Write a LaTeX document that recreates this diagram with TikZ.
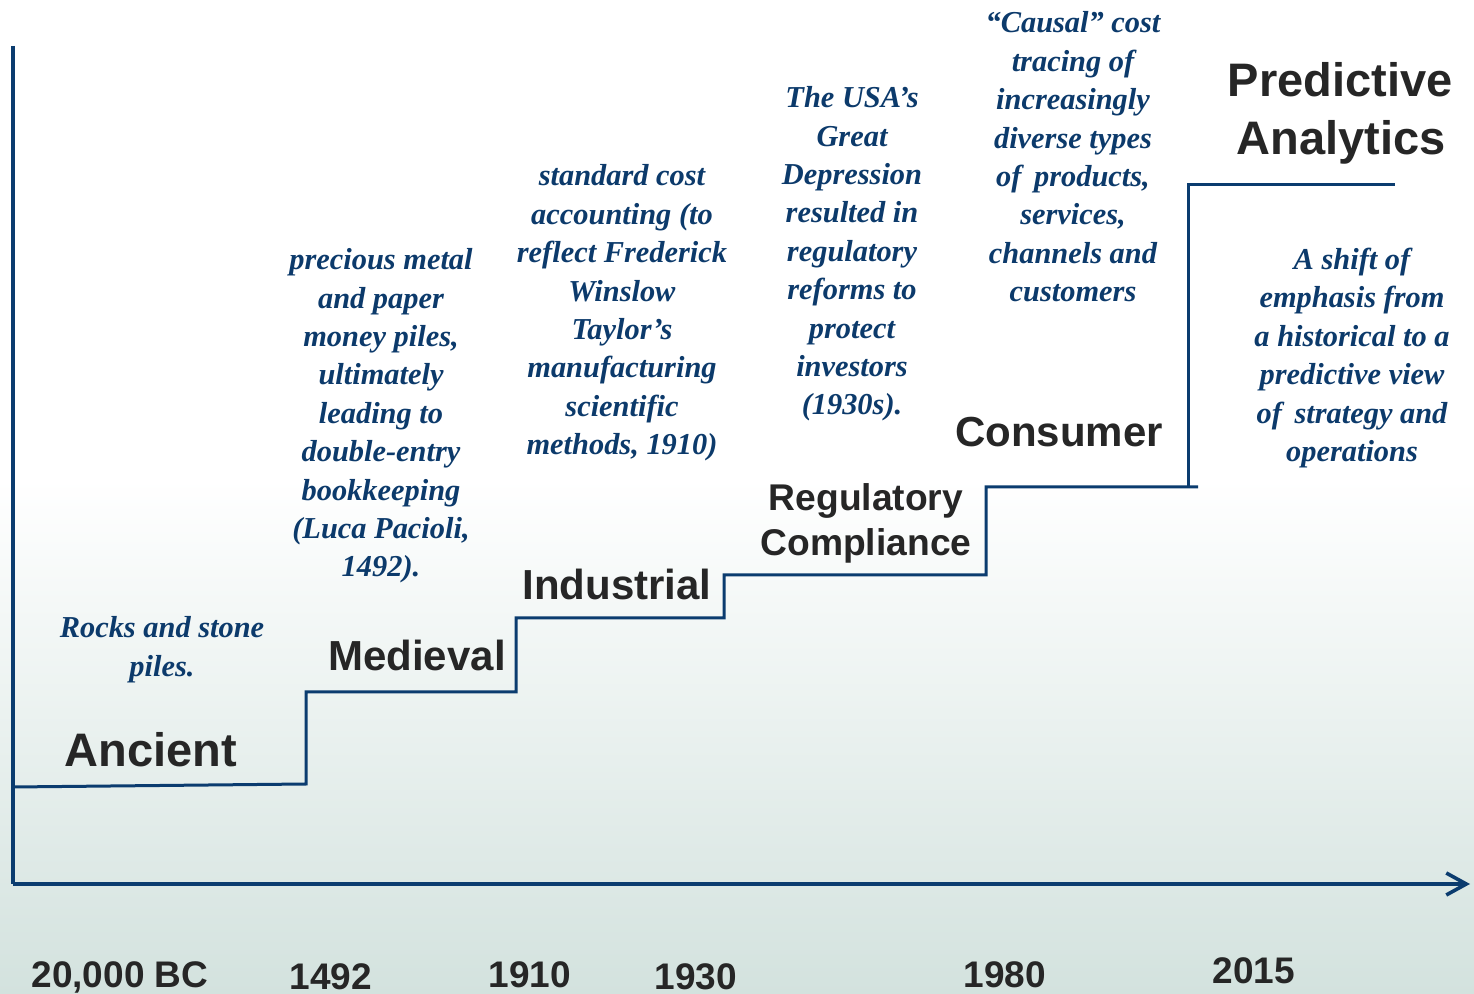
\documentclass[tikz,border=0pt]{standalone}
\usepackage{fontspec}
\setmainfont{Liberation Serif}
\newfontfamily\labelfont{Liberation Sans}
\usetikzlibrary{arrows.meta}
\definecolor{navy}{HTML}{0B3C6F}
\definecolor{itblue}{HTML}{0C3A6B}
\definecolor{darktxt}{HTML}{262626}
\definecolor{bgbot}{HTML}{D3E2DE}
\tikzset{
  desc/.style={text=itblue, align=center, inner sep=0pt,
    font=\bfseries\itshape\fontsize{15.2}{19.2}\selectfont},
  era/.style={text=darktxt, inner sep=0pt, anchor=base,
    font=\labelfont\bfseries\fontsize{#1}{#1}\selectfont},
  era/.default=21,
  yearlbl/.style={text=darktxt, inner sep=0pt, anchor=base,
    font=\labelfont\bfseries\fontsize{18.5}{18.5}\selectfont},
  stair/.style={draw=navy, line width=1.5pt, line join=miter},
  axisline/.style={draw=navy, line width=1.6pt}
}
\begin{document}
\begin{tikzpicture}[x=0.5pt,y=-0.5pt]
\useasboundingbox (0,0) rectangle (1474,994);
\fill[white] (0,0) rectangle (1474,480);
\shade[top color=white, bottom color=bgbot] (0,479) rectangle (1474,994);

% axes
\coordinate (ytop) at (13,46);
\coordinate (origin) at (13,884);
\coordinate (xend) at (1470,884);
\draw[axisline] (ytop) -- (origin);
\draw[axisline, -{Straight Barb[length=10pt,width=11pt,line width=1.8pt]}] (origin) -- (xend);

% staircase
\draw[stair] (13,787) -- (306,784) -- (306,692) -- (516,692) -- (516,618)
  -- (724,618) -- (724,575) -- (986,575) -- (986,487) -- (1198,487);
\draw[stair] (1188,487) -- (1188,185) -- (1395,185);

% era labels
\node[era=23.5] (ancient) at (151,767) {Ancient};
\node[era] (medieval) at (417,670) {Medieval};
\node[era] (industrial) at (617,600) {Industrial};
\node[era=18.6] (regulatory) at (866,511) {Regulatory};
\node[era=18.6] (compliance) at (866,556) {Compliance};
\node[era] (consumer) at (1059,447) {Consumer};
\node[era=23.5] (predictive) at (1340,97) {Predictive};
\node[era=23.5] (analytics) at (1341,155) {Analytics};

% descriptions
\node[desc] (dancient) at (162,649.5) {Rocks and stone\\piles.};
\node[desc] (dmedieval) at (381,416) {precious metal\\and paper\\money piles,\\ultimately\\leading to\\double-entry\\bookkeeping\\(Luca Pacioli,\\1492).};
\node[desc] (dindustrial) at (622,313) {standard cost\\accounting (to\\reflect Frederick\\Winslow\\Taylor’s\\manufacturing\\scientific\\methods, 1910)};
\node[desc] (dregulatory) at (852,254) {The USA’s\\Great\\Depression\\resulted in\\regulatory\\reforms to\\protect\\investors\\(1930s).};
\node[desc] (dconsumer) at (1073,157) {“Causal” cost\\tracing of\\increasingly\\diverse types\\of\, products,\\services,\\channels and\\customers};
\node[desc] (dpredictive) at (1352,358) {A shift of\\emphasis from\\a historical to a\\predictive view\\of\, strategy and\\operations};

% years
\node[yearlbl] (y1) at (120,987) {20,000 BC};
\node[yearlbl] (y2) at (331,989) {1492};
\node[yearlbl] (y3) at (530,987) {1910};
\node[yearlbl] (y4) at (696,989) {1930};
\node[yearlbl] (y5) at (1005,987) {1980};
\node[yearlbl] (y6) at (1254,983) {2015};
\end{tikzpicture}
\end{document}
